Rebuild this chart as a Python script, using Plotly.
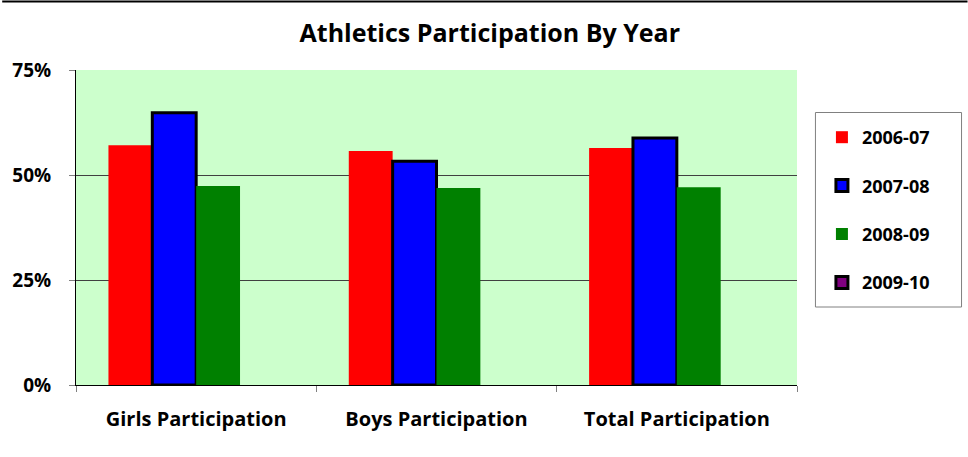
import plotly.graph_objects as go

categories = ["Girls Participation", "Boys Participation", "Total Participation"]
series_names = ["2006-07", "2007-08", "2008-09", "2009-10"]
v_2006_07 = [0.571, 0.557, 0.564]
v_2007_08 = [0.648, 0.533, 0.588]
v_2008_09 = [0.474, 0.469, 0.471]
v_2009_10 = [None, None, None]
y_ticks = [0, 0.25, 0.5, 0.75]

colors = ["#FF0000", "#0000FF", "#008000", "#800080"]
outline = [None, "#000000", None, "#000000"]
values = [v_2006_07, v_2007_08, v_2008_09, v_2009_10]

FONT = "Open Sans"
L, R, T, B, W, H = 74, 171, 70, 72, 968, 457
PW, PH = W - L - R, H - T - B


def px_x(p):
    return (p - L) / PW


def px_y(p):
    return (H - B - p) / PH


fig = go.Figure()
for name, vals, c, o in zip(series_names, values, colors, outline):
    fig.add_trace(go.Bar(
        x=categories, y=vals, name=name, legendgroup=name,
        marker=dict(color=c, line=dict(color=o if o else c, width=3 if o else 0)),
    ))

fig.update_layout(
    width=W, height=H,
    margin=dict(l=L, r=R, t=T, b=B),
    paper_bgcolor="white", plot_bgcolor="#CCFFCC",
    barmode="group", bargap=0.27, bargroupgap=0,
    title=dict(text="Athletics Participation By Year", x=0.506, xref="container",
               xanchor="center", y=1 - 33 / H, yref="container", yanchor="middle",
               font=dict(family=FONT, size=25, color="black", weight="bold")),
    font=dict(family=FONT, color="black"),
    showlegend=True,
    legend=dict(x=px_x(822), y=px_y(119), xanchor="left", yanchor="top",
                borderwidth=0, bgcolor="rgba(0,0,0,0)",
                font=dict(family=FONT, size=18, color="black", weight="bold"),
                tracegroupgap=22, itemwidth=30),
    xaxis=dict(showline=True, linecolor="black", linewidth=1,
               ticks="outside", tickson="boundaries", ticklen=6, tickcolor="#808080",
               tickfont=dict(family=FONT, size=20, color="black", weight="bold"),
               ticklabelstandoff=16),
    yaxis=dict(range=[0, 0.75], tickvals=y_ticks, tickformat=".0%",
               showgrid=True, gridcolor="#404040", gridwidth=1,
               showline=True, linecolor="black", linewidth=1,
               ticks="outside", ticklen=6, tickcolor="#808080",
               tickfont=dict(family=FONT, size=19, color="black", weight="bold"),
               ticklabelstandoff=14, zeroline=False),
)
# legend frame
fig.add_shape(type="rect", xref="paper", yref="paper",
              x0=px_x(815.5), x1=px_x(962), y0=px_y(307), y1=px_y(112.5),
              line=dict(color="#808080", width=1), fillcolor="white", layer="below")
# top border line of the chart area
fig.add_shape(type="line", xref="paper", yref="paper", x0=px_x(0), x1=px_x(W),
              y0=px_y(1.5), y1=px_y(1.5), line=dict(color="black", width=2))
fig.write_html("out.html", config={"displayModeBar": False},
               post_script="document.body.style.margin='0';")
